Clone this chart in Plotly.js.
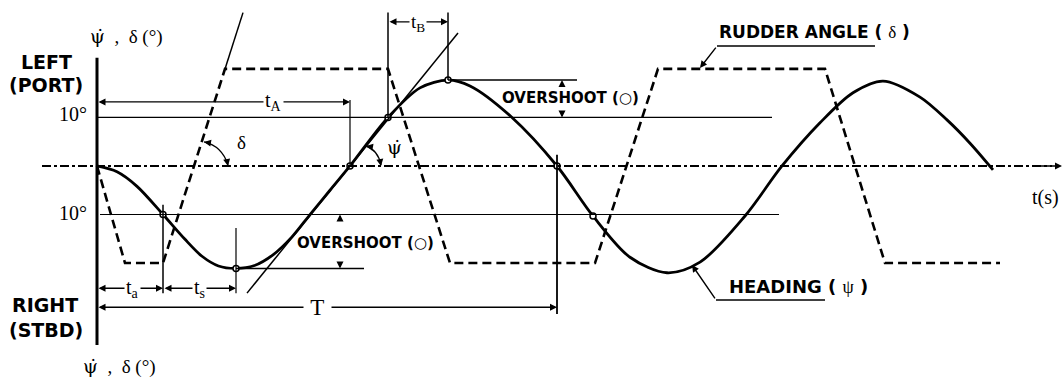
<!DOCTYPE html>
<html>
<head>
<meta charset="utf-8">
<script src="https://cdn.plot.ly/plotly-3.0.1.min.js"></script>
<style>html, body { margin: 0; padding: 0; background: #fff; }</style>
</head>
<body>
<div id="chart" style="width:1064px;height:381px"></div>
<script>
// Zigzag manoeuvre: rudder angle and heading (deg) against time (s)
const rudderT = [0, 5.6, 13.2, 25.6, 58.2, 70.6, 99.6, 112.2, 145.6, 157.6, 180.6];
const rudderDeg = [0, -20, -20, 20, 20, -20, -20, 20, 20, -20, -20];

const headingT = [0, 4, 8, 13.2, 17.5, 21, 24.3, 27.8, 31.5, 35.2, 39, 42.6, 46.6, 50.6, 58.2, 64.6, 70.2, 74.6, 83, 92,
  99.2, 106.6, 114, 120.6, 129.6, 137, 144.6, 151.2, 157.2, 164.6, 170, 174.6, 179.2];
const headingDeg = [0, -1.2, -4.2, -10, -15, -18.6, -20.6, -21.1, -20.5, -18.3, -14.6, -10, -5, 0, 10, 16.1, 17.7, 16.5, 10, 0,
  -10.3, -18.8, -22, -19.8, -10.3, 0, 8.9, 15.1, 17.5, 14.2, 9.5, 4.7, -0.8];

// points marked with small circles on the heading curve
const checkT = [13.2, 27.8, 50.6, 58.2, 70.2, 92, 99.2];
const checkDeg = [-10, -21.1, 0, 10, 17.7, 0, -10.3];

// event times (s) used by the dimension lines
const tSwitch = 13.2, tTrough = 27.8, tZero = 50.6, tCheck = 58.2, tPeak = 70.2, tPeriod = 92;
const overshootTop = 17.7, overshootLow = -21.1;

const serif = "Liberation Serif";
const boldSans = "DejaVu Sans";
const psiDot = "<span style='font-family:DejaVu Serif'>ψ̇</span>";

function seg(x0, y0, x1, y1, w, dash) {
  return { type: "line", xref: "x", yref: "y", x0: x0, y0: y0, x1: x1, y1: y1,
    line: { color: "black", width: w || 1.5, dash: dash || "solid" } };
}

function arrow(x, y, ax, ay, side) {
  return { x: x, y: y, ax: ax, ay: ay, axref: "x", ayref: "y", text: "", showarrow: true,
    arrowhead: 2, arrowsize: 1, arrowwidth: 1.4, arrowcolor: "black", arrowside: side || "end",
    standoff: 0, startstandoff: 0 };
}

function label(x, y, text, size, family, opts) {
  let a = { x: x, y: y, text: text, showarrow: false,
    font: { family: family || serif, size: size || 19, color: "black" } };
  return Object.assign(a, opts || {});
}

function boldLabel(x, y, text, size, opts) {
  let a = label(x, y, text, size || 18, boldSans, opts);
  a.font.weight = 700;
  return a;
}

const traces = [
  {
    x: rudderT, y: rudderDeg, mode: "lines", type: "scatter",
    line: { color: "black", width: 2.6, dash: "9px,5px" }, hoverinfo: "skip"
  },
  {
    x: headingT, y: headingDeg, mode: "lines", type: "scatter",
    line: { color: "black", width: 2.8, shape: "spline", smoothing: 0.9 }, hoverinfo: "skip"
  },
  {
    x: checkT, y: checkDeg, mode: "markers", type: "scatter",
    marker: { size: 6, color: "white", line: { color: "black", width: 1.5 } }, hoverinfo: "skip"
  }
];

const shapes = [
  // vertical axis and zero line
  seg(0, 22.3, 0, -36.9, 3),
  seg(-11, 0, 191, 0, 2, "dashdot"),
  // +/-10 deg lines
  seg(0, 10, 135, 10, 1.2),
  seg(0.6, -10, 136.4, -10, 1.2),
  // rudder slope extension and heading tangent
  seg(25.6, 20, 29.2, 31.6, 1.5),
  seg(30, -26.2, 72.2, 27.4, 1.5),
  // t_A
  seg(tZero, 13.6, tZero, 0, 1.2),
  // t_B
  seg(tCheck, 31.6, tCheck, 10, 1.5),
  seg(tPeak, 31.6, tPeak, overshootTop, 1.5),
  // overshoot lines
  seg(tPeak, overshootTop, 96, overshootTop, 1.5),
  seg(tTrough, overshootLow, 53.4, overshootLow, 1.5),
  // t_a / t_s / T verticals
  seg(tSwitch, -8, tSwitch, -26.2, 1.5),
  seg(tTrough, -12.8, tTrough, -26.2, 1.2),
  seg(tPeriod, 2.3, tPeriod, -30.5, 1.8),
  // delta and psi-dot angle arcs
  { type: "path", xref: "x", yref: "y", path: "M 21.4,4.95 Q 25,4.1 26.2,0.2", line: { color: "black", width: 1.3 } },
  { type: "path", xref: "x", yref: "y", path: "M 53.8,4.1 Q 56.2,3.3 56.8,0.2", line: { color: "black", width: 1.3 } },
  // leaders under the curve names
  seg(124, 24.7, 155.6, 24.7, 1.5),
  seg(123.8, -27.6, 145.6, -27.6, 1.5)
];

const annotations = [
  // axis arrow and titles
  arrow(193, 0, 187, 0),
  label(189.6, -6.4, "t(s)", 20),
  label(5.8, 26.6, psiDot + "  ,  δ (°)", 19),
  label(4.4, -41.4, psiDot + "  ,  δ (°)", 19),
  label(-1.6, 10.7, "10°", 20, serif, { xanchor: "right" }),
  label(-1.6, -9.7, "10°", 20, serif, { xanchor: "right" }),
  boldLabel(-10.2, 21.4, "LEFT", 19),
  boldLabel(-10.2, 16.6, "(PORT)", 19),
  boldLabel(-10.4, -28.7, "RIGHT", 19),
  boldLabel(-10.2, -33.8, "(STBD)", 19),
  // t_A
  arrow(tZero, 13.2, 0, 13.2, "end+start"),
  label(35.2, 13.2, "t<sub>A</sub>", 20, serif, { bgcolor: "white" }),
  // t_B
  arrow(tPeak, 29.7, tCheck, 29.7, "end+start"),
  label(64.2, 29.4, "t<sub>B</sub>", 19, serif, { bgcolor: "white" }),
  // angle arc heads and symbols
  arrow(21.4, 4.95, 22.6, 4.75),
  arrow(26.2, 0, 25.95, 1.3),
  label(28.8, 4.9, "δ", 19),
  arrow(53.8, 4.1, 54.9, 3.9),
  arrow(56.8, 0, 56.6, 1.2),
  label(59.4, 4.0, psiDot, 19),
  // overshoots
  arrow(93, overshootTop, 93, 16.2),
  arrow(93, 10, 93, 11.4),
  boldLabel(94.6, 14.1, "OVERSHOOT (○)", 15),
  arrow(48.6, -10, 48.6, -11.6),
  arrow(48.6, overshootLow, 48.6, -19.6),
  boldLabel(53.6, -15.9, "OVERSHOOT (○)", 15),
  // t_a, t_s, T
  arrow(tSwitch, -25.2, 0, -25.2, "end+start"),
  label(7, -25.2, "t<sub>a</sub>", 20, serif, { bgcolor: "white" }),
  arrow(tTrough, -25.2, tSwitch, -25.2, "end+start"),
  label(20.4, -25.2, "t<sub>s</sub>", 20, serif, { bgcolor: "white" }),
  arrow(tPeriod, -29.1, 0, -29.1, "end+start"),
  label(44, -29.1, " T ", 23, serif, { bgcolor: "white" }),
  // curve names
  boldLabel(124, 27.6, "RUDDER ANGLE ( <span style='font-weight:normal;font-family:Liberation Serif'>δ</span> )", 17, { xanchor: "left" }),
  arrow(120.6, 20.2, 124, 24.7),
  boldLabel(126, -24.9, "HEADING ( <span style='font-weight:normal;font-family:Liberation Serif'>ψ</span> )", 18, { xanchor: "left" }),
  arrow(119, -20.4, 123.8, -27.6)
];

const layout = {
  width: 1064, height: 381,
  margin: { l: 0, r: 0, t: 0, b: 0 },
  paper_bgcolor: "white", plot_bgcolor: "white",
  showlegend: false,
  xaxis: { range: [-19.4, 193.4], visible: false, fixedrange: true },
  yaxis: { range: [-44.3, 34.2], visible: false, fixedrange: true },
  shapes: shapes,
  annotations: annotations
};

Plotly.newPlot("chart", traces, layout, { staticPlot: true });
</script>
</body>
</html>
